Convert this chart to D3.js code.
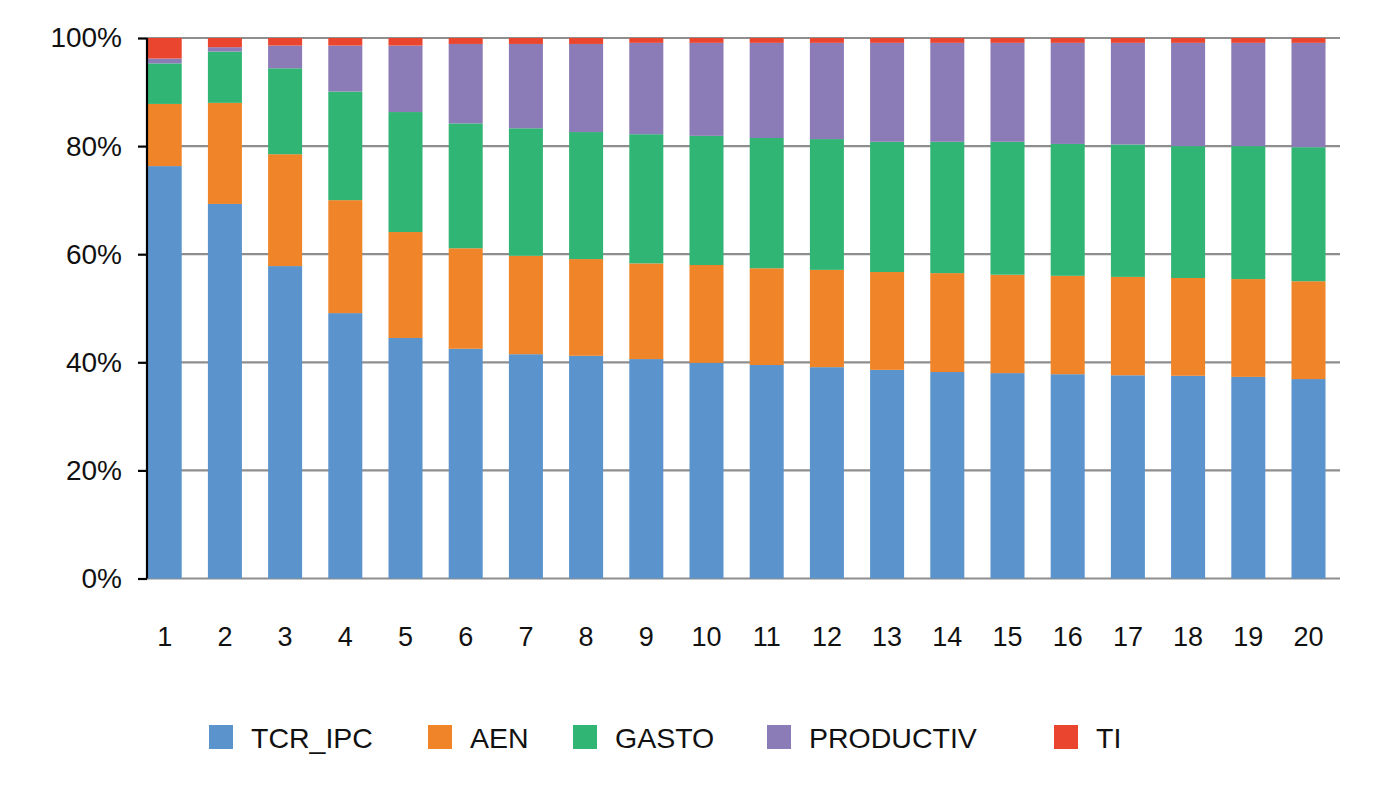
<!DOCTYPE html>
<html><head><meta charset="utf-8">
<script src="https://cdn.jsdelivr.net/npm/d3@7"></script>
<style>html,body{margin:0;padding:0;background:#fff;}svg{display:block;font-family:"Liberation Sans",Arial,sans-serif;}</style>
</head><body>
<svg id="c" width="1375" height="787"></svg>
<script>
const categories = ["1","2","3","4","5","6","7","8","9","10","11","12","13","14","15","16","17","18","19","20"];
const seriesNames = ["TCR_IPC","AEN","GASTO","PRODUCTIV","TI"];
const TCR_IPC   = [76.3,69.3,57.8,49.1,44.5,42.5,41.5,41.2,40.6,39.9,39.5,39.1,38.6,38.2,38.0,37.8,37.6,37.5,37.3,36.9];
const AEN       = [11.5,18.7,20.7,20.9,19.6,18.6,18.2,17.9,17.7,18.1,17.9,18.0,18.1,18.3,18.2,18.2,18.2,18.1,18.1,18.1];
const GASTO     = [7.5,9.5,15.9,20.1,22.2,23.1,23.6,23.5,23.9,23.9,24.1,24.2,24.1,24.3,24.6,24.4,24.5,24.4,24.6,24.8];
const PRODUCTIV = [0.9,0.8,4.2,8.5,12.3,14.7,15.6,16.3,16.9,17.2,17.6,17.8,18.3,18.3,18.3,18.7,18.8,19.1,19.1,19.3];
const TI        = [3.8,1.7,1.4,1.4,1.4,1.1,1.1,1.1,0.9,0.9,0.9,0.9,0.9,0.9,0.9,0.9,0.9,0.9,0.9,0.9];
const yTicks = [0,0.2,0.4,0.6,0.8,1.0];
const colors = ["#5b93cc","#ef8528","#31b574","#8b7bb7","#e9452f"];

(function(){
const seriesData = [TCR_IPC, AEN, GASTO, PRODUCTIV, TI];
const rows = categories.map((c,i)=>{const o={cat:c}; seriesNames.forEach((s,j)=>o[s]=seriesData[j][i]); return o;});
const stack = d3.stack().keys(seriesNames).offset(d3.stackOffsetExpand)(rows);

const svg = d3.select("#c");
const pLeft = 147, pRight = 1340, pTop = 38, pBottom = 578.5;
const x = d3.scaleBand().domain(categories).range([147.7, 1325.5]).paddingInner(0.435).paddingOuter(0).align(0);
const y = d3.scaleLinear().domain([0,1]).range([pBottom, pTop]);
const color = d3.scaleOrdinal().domain(seriesNames).range(colors);

svg.append("g").selectAll("line").data(yTicks).join("line")
  .attr("x1", pLeft).attr("x2", pRight)
  .attr("y1", d=>y(d)).attr("y2", d=>y(d))
  .attr("stroke", "#8e8e8e").attr("stroke-width", 2.2);

svg.append("g").selectAll("g").data(stack).join("g")
  .attr("fill", d=>color(d.key))
  .selectAll("rect").data(d=>d).join("rect")
  .attr("x", d=>x(d.data.cat))
  .attr("width", x.bandwidth())
  .attr("y", d=>y(d[1]))
  .attr("height", d=>y(d[0])-y(d[1]));

const yAxis = d3.axisLeft(y).tickValues(yTicks).tickFormat(d3.format(".0%")).tickSize(9).tickPadding(16);
const ga = svg.append("g").attr("transform", `translate(${pLeft},0)`).call(yAxis);
ga.select(".domain").attr("stroke","#000").attr("stroke-width",2.2).attr("d", `M0,${pBottom}V${pTop}`);
ga.selectAll(".tick line").attr("stroke","#000").attr("stroke-width",2.2);
ga.selectAll(".tick text").attr("font-size", 28).attr("fill","#111").attr("font-family","Liberation Sans, Arial, sans-serif");

const xAxis = d3.axisBottom(x).tickSize(0).tickPadding(0);
const gx = svg.append("g").attr("transform", `translate(0,${pBottom + 48})`).call(xAxis);
gx.select(".domain").remove();
gx.selectAll(".tick text").attr("font-size", 27).attr("fill","#111").attr("font-family","Liberation Sans, Arial, sans-serif");

const legendX = [209, 428, 573, 767, 1054];
const lg = svg.append("g");
seriesNames.forEach((s,i)=>{
  lg.append("rect").attr("x", legendX[i]).attr("y", 725).attr("width", 24).attr("height", 24).attr("fill", colors[i]);
  lg.append("text").attr("x", legendX[i]+42).attr("y", 747.5)
    .attr("font-size", 28.5).attr("fill","#111").text(s);
});
})();
</script>
</body></html>
